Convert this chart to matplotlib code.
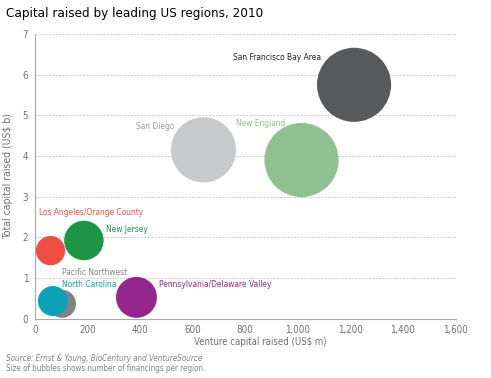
import matplotlib.pyplot as plt
from matplotlib.ticker import FuncFormatter

plt.rcParams['font.family'] = ['DejaVu Sans']
plt.rcParams['font.stretch'] = 'condensed'

# Data
regions = ['San Francisco Bay Area', 'New England', 'San Diego', 'New Jersey',
           'Los Angeles/Orange County', 'Pennsylvania/Delaware Valley',
           'Pacific Northwest', 'North Carolina']
venture = [1214, 1014, 641, 186, 59, 386, 103, 68]        # US$ m
total = [5.75, 3.9, 4.15, 1.92, 1.67, 0.52, 0.36, 0.43]   # US$ b
financings = [141, 141, 109, 40, 22, 43, 20, 23]
colors = ['#58595b', '#8fc08f', '#c8c9cb', '#1e9447',
          '#f04e45', '#93278f', '#808285', '#0aa0b6']

# label offsets in pixels from bubble centre, and alignment
label_pos = {
    'San Francisco Bay Area': (-33, 27, 'right'),
    'New England': (-65, 37, 'left'),
    'San Diego': (-29, 23, 'right'),
    'New Jersey': (22, 11, 'left'),
    'Los Angeles/Orange County': (-12, 38, 'left'),
    'Pennsylvania/Delaware Valley': (23, 13, 'left'),
    'Pacific Northwest': (0, 31, 'left'),
    'North Carolina': (9, 17, 'left'),
}
label_colors = {'San Francisco Bay Area': '#231f20', 'San Diego': '#9a9b9d',
                'Pacific Northwest': '#808285'}

fig = plt.figure(figsize=(4.91, 3.78), dpi=100)
ax = fig.add_axes([0.0713, 0.1574, 0.8564, 0.7526])

sizes = [f * 20.2 for f in financings]
ax.scatter(venture, total, s=sizes, c=colors, linewidths=0, zorder=3)

for i, name in enumerate(regions):
    dx, dy, ha = label_pos[name]
    ax.annotate(name, (venture[i], total[i]), xytext=(dx, dy),
                textcoords='offset pixels', ha=ha, va='center',
                fontsize=6, color=label_colors.get(name, colors[i]), zorder=4)

ax.set_xlim(0, 1600)
ax.set_ylim(0, 7)
ax.set_xticks(range(0, 1601, 200))
ax.set_yticks(range(0, 8))
ax.xaxis.set_major_formatter(FuncFormatter(lambda v, p: '{:,.0f}'.format(v)))
ax.grid(axis='y', color='#c8c8c8', linestyle=(0, (2, 1.5)), linewidth=0.7, zorder=0)
ax.tick_params(length=0, labelsize=7, colors='#6d6e71', pad=5)
for s in ['top', 'right']:
    ax.spines[s].set_visible(False)
for s in ['left', 'bottom']:
    ax.spines[s].set_color('#a7a9ac')
    ax.spines[s].set_linewidth(0.8)

ax.set_xlabel('Venture capital raised (US$ m)', fontsize=6.9, color='#6d6e71')
ax.xaxis.set_label_coords(0.535, -0.066)
ax.set_ylabel('Total capital raised (US$ b)', fontsize=7.5, color='#6d6e71', labelpad=7)

fig.text(0.012, 0.965, 'Capital raised by leading US regions, 2010', fontsize=9.6,
         color='#000000', va='center', ha='left')
fig.text(0.012, 0.052, 'Source: Ernst & Young, BioCentury and VentureSource',
         fontsize=5.8, style='italic', color='#808285', va='center')
fig.text(0.012, 0.025, 'Size of bubbles shows number of financings per region.',
         fontsize=5.8, color='#808285', va='center')

plt.savefig('out.png', dpi=100)
